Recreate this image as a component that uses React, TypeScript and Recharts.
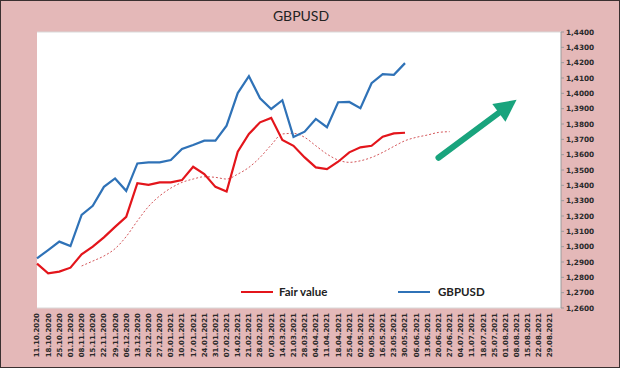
import React from "react";
import {
  LineChart,
  Line,
  XAxis,
  YAxis,
  CartesianGrid,
  ReferenceLine,
} from "recharts";

// weekly dates on the category axis
const dates = [
  "11.10.2020", "18.10.2020", "25.10.2020", "01.11.2020", "08.11.2020",
  "15.11.2020", "22.11.2020", "29.11.2020", "06.12.2020", "13.12.2020",
  "20.12.2020", "27.12.2020", "03.01.2021", "10.01.2021", "17.01.2021",
  "24.01.2021", "31.01.2021", "07.02.2021", "14.02.2021", "21.02.2021",
  "28.02.2021", "07.03.2021", "14.03.2021", "21.03.2021", "28.03.2021",
  "04.04.2021", "11.04.2021", "18.04.2021", "25.04.2021", "02.05.2021",
  "09.05.2021", "16.05.2021", "23.05.2021", "30.05.2021", "06.06.2021",
  "13.06.2021", "20.06.2021", "27.06.2021", "04.07.2021", "11.07.2021",
  "18.07.2021", "25.07.2021", "01.08.2021", "08.08.2021", "15.08.2021",
  "22.08.2021", "29.08.2021",
];

const gbpusd = [
  1.2924, 1.2978, 1.3033, 1.3004, 1.3207, 1.3266, 1.339, 1.3445, 1.3364, 1.3543,
  1.355, 1.355, 1.3565, 1.3637, 1.3663, 1.3691, 1.3691, 1.3789, 1.4002, 1.4112,
  1.3968, 1.3898, 1.3955, 1.3716, 1.375, 1.3833, 1.3779, 1.3942, 1.3944, 1.3903,
  1.4066, 1.4125, 1.4121, 1.4197,
];

const fairValue = [
  1.2889, 1.2826, 1.2837, 1.2863, 1.295, 1.3, 1.3061, 1.3129, 1.3194, 1.3414,
  1.3403, 1.3419, 1.3419, 1.3434, 1.3521, 1.3473, 1.339, 1.336, 1.362, 1.3735,
  1.3811, 1.384, 1.3696, 1.3658, 1.3582, 1.3517, 1.3506, 1.3554, 1.3615, 1.3648,
  1.3658, 1.3717, 1.3739, 1.3743,
];

// smoothed fair value (dotted), starts at 08.11.2020
const trendStart = 4;
const trend = [
  1.2874, 1.2906, 1.2939, 1.2987, 1.3066, 1.3168, 1.3262, 1.3331, 1.3382, 1.3419,
  1.3441, 1.3456, 1.3452, 1.3441, 1.3473, 1.3517, 1.3582, 1.3663, 1.3735, 1.3739,
  1.3713, 1.3658, 1.3604, 1.3565, 1.355, 1.356, 1.3582, 1.3615, 1.3654, 1.3691,
  1.3713, 1.3728, 1.3745, 1.375,
];

const yTicks = [
  1.26, 1.27, 1.28, 1.29, 1.3, 1.31, 1.32, 1.33, 1.34, 1.35,
  1.36, 1.37, 1.38, 1.39, 1.4, 1.41, 1.42, 1.43, 1.44,
];
const gridTicks = [0, 1, 2, 3, 4, 5, 6, 7, 8, 9, 10];

const arrowFrom = { date: "20.06.2021", value: 1.358 };
const arrowTo = { date: "08.08.2021", value: 1.3958 };

const data = dates.map((d, i) => ({
  date: d,
  gbpusd: i < gbpusd.length ? gbpusd[i] : null,
  fair: i < fairValue.length ? fairValue[i] : null,
  trend:
    i >= trendStart && i < trendStart + trend.length
      ? trend[i - trendStart]
      : null,
}));

const labelFont = "'DejaVu Sans', sans-serif";

const XTick = ({ x, y, payload }: any) => (
  <text
    x={x}
    y={y}
    transform={`rotate(-90 ${x} ${y})`}
    textAnchor="end"
    dy="0.35em"
    fontSize={7}
    fontWeight="bold"
    fontFamily={labelFont}
    fill="#2a2a2a"
  >
    {payload.value}
  </text>
);

const Arrow = (props: any) => {
  const { x1, y1, x2, y2 } = props;
  const dx = x2 - x1;
  const dy = y2 - y1;
  const len = Math.sqrt(dx * dx + dy * dy) || 1;
  const ux = dx / len;
  const uy = dy / len;
  const head = 22;
  const half = 11;
  const bx = x2 - ux * head;
  const by = y2 - uy * head;
  const pts = [
    `${x2},${y2}`,
    `${bx - uy * half},${by + ux * half}`,
    `${bx + uy * half},${by - ux * half}`,
  ].join(" ");
  return (
    <g>
      <line
        x1={x1}
        y1={y1}
        x2={bx + ux * 2}
        y2={by + uy * 2}
        stroke="#19a47d"
        strokeWidth={6}
        strokeLinecap="round"
      />
      <polygon points={pts} fill="#19a47d" />
    </g>
  );
};

const LegendBox = () => (
  <div
    style={{
      position: "absolute",
      left: 240,
      top: 284,
      display: "flex",
      alignItems: "center",
      fontFamily: "Lato, 'Open Sans', sans-serif",
      fontWeight: "bold",
      fontSize: 11.5,
      color: "#222",
    }}
  >
    <span
      style={{ width: 32, height: 2, background: "#e3151b", display: "inline-block" }}
    />
    <span style={{ marginLeft: 6, width: 119 }}>Fair value</span>
    <span
      style={{ width: 32, height: 2, background: "#2f72b7", display: "inline-block" }}
    />
    <span style={{ marginLeft: 8 }}>GBPUSD</span>
  </div>
);

export default function App() {
  return (
    <div
      style={{
        position: "absolute",
        left: 0,
        top: 0,
        width: 620,
        height: 368,
        boxSizing: "border-box",
        border: "1px solid #3a3030",
        background: "#e4b8b8",
        overflow: "hidden",
      }}
    >
      <div
        style={{
          position: "absolute",
          top: 6,
          left: 0,
          width: 600,
          textAlign: "center",
          fontFamily: "Lato, 'Open Sans', sans-serif",
          fontSize: 14,
          color: "#222",
        }}
      >
        GBPUSD
      </div>
      <div style={{ position: "absolute", left: -1, top: -1 }}>
        <LineChart
          width={620}
          height={368}
          data={data}
          margin={{ top: 32, right: 0, left: 37, bottom: 0 }}
        >
          <CartesianGrid
            yAxisId="grid"
            vertical={false}
            horizontal
            fill="#ffffff"
            stroke="#d9d9d9"
            strokeWidth={1}
          />
          <XAxis
            dataKey="date"
            interval={0}
            height={60}
            tick={<XTick />}
            tickLine={false}
            axisLine={false}
            tickSize={0}
            tickMargin={5}
            padding={{ left: 0, right: 11 }}
          />
          <YAxis
            yAxisId="grid"
            orientation="left"
            hide
            domain={[0, 10]}
            ticks={gridTicks}
            width={0}
          />
          <YAxis
            yAxisId="right"
            orientation="right"
            domain={[1.26, 1.44]}
            ticks={yTicks}
            interval={0}
            width={59}
            tickSize={3}
            tickMargin={2}
            axisLine={{ stroke: "#9a9a9a" }}
            tickLine={{ stroke: "#9a9a9a" }}
            tickFormatter={(v: number) => v.toFixed(4).replace(".", ",")}
            tick={{
              fontSize: 7.3,
              fontWeight: "bold",
              fontFamily: labelFont,
              fill: "#2a2a2a",
            }}
          />
          <Line
            yAxisId="right"
            type="monotone"
            dataKey="trend"
            stroke="#d4565a"
            strokeWidth={1}
            strokeDasharray="2 2"
            dot={false}
            legendType="none"
            isAnimationActive={false}
          />
          <Line
            yAxisId="right"
            type="linear"
            dataKey="fair"
            name="Fair value"
            stroke="#e3151b"
            strokeWidth={2.2}
            dot={false}
            isAnimationActive={false}
          />
          <Line
            yAxisId="right"
            type="linear"
            dataKey="gbpusd"
            name="GBPUSD"
            stroke="#2f72b7"
            strokeWidth={2.2}
            dot={false}
            isAnimationActive={false}
          />
          <ReferenceLine
            yAxisId="right"
            segment={[
              { x: arrowFrom.date, y: arrowFrom.value },
              { x: arrowTo.date, y: arrowTo.value },
            ]}
            ifOverflow="visible"
            shape={<Arrow />}
          />
        </LineChart>
      </div>
      <LegendBox />
    </div>
  );
}
